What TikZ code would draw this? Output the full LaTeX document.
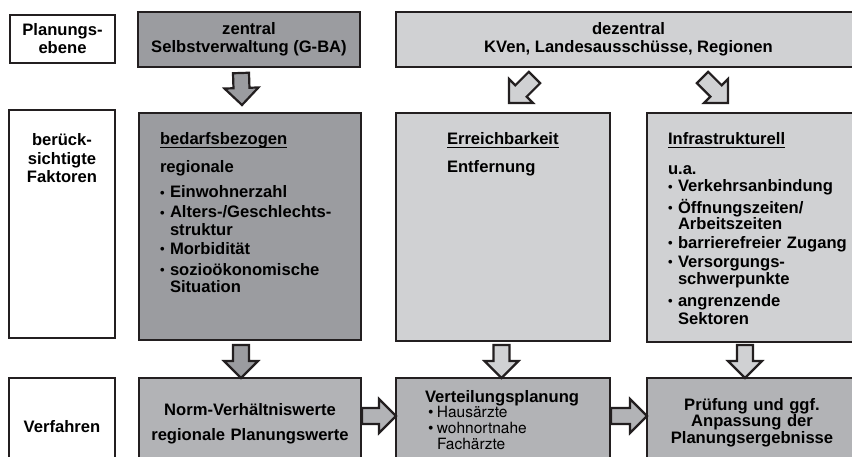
\documentclass[tikz,border=0pt]{standalone}
\usepackage{fontspec}
\setmainfont{Liberation Sans}
\newfontfamily\itmfont{TeX Gyre Heros}
\usetikzlibrary{calc}
\definecolor{gdark}{RGB}{155,156,160}
\definecolor{gmid}{RGB}{178,179,182}
\definecolor{glight}{RGB}{208,209,211}
\definecolor{edgec}{RGB}{35,31,32}
\newsavebox{\ulbox}
\newcommand{\undl}[1]{\sbox\ulbox{#1}\rlap{\rule[-2.8pt]{\wd\ulbox}{1.1pt}}\usebox\ulbox}
\newcommand{\bul}{\makebox[10pt][l]{\raisebox{0.8pt}{\fontsize{13}{13}\selectfont •}}}
\newcommand{\hng}{\makebox[10pt]{}}
\newcommand{\blkarrow}[3]{%
  \coordinate (bas) at #2;
  \coordinate (bae) at #3;
  \coordinate (bap) at ($(bae)!17pt!(bas)$);
  \draw[barr,fill=#1] ($(bas)!8pt!90:(bae)$) -- ($(bap)!8pt!90:(bae)$) -- ($(bap)!17pt!90:(bae)$) -- (bae)
    -- ($(bap)!17pt!-90:(bae)$) -- ($(bap)!8pt!-90:(bae)$) -- ($(bas)!8pt!-90:(bae)$) -- cycle;
}
\begin{document}
\begin{tikzpicture}[x=1pt,y=-1pt,
  box/.style={draw=edgec,line width=1.6pt,inner sep=0pt,outer sep=0pt,anchor=north west,
    font=\fontsize{16.6}{18}\selectfont\bfseries,align=center},
  body/.style={font=\fontsize{16.6}{17.5}\selectfont\bfseries,inner sep=0pt,outer sep=0pt,
    anchor=base west,text width=#1,align=left},
  ctext/.style={font=\fontsize{16.6}{#1}\selectfont\bfseries,inner sep=0pt,outer sep=0pt,
    anchor=base,text width=220pt,align=center},
  itm/.style={font=\itmfont\fontsize{15.5}{15.5}\selectfont,inner sep=0pt,outer sep=0pt,anchor=base west},
  barr/.style={draw=edgec,line width=2.2pt,line join=miter}]
\useasboundingbox (0,0) rectangle (852,457);
\clip (0,0) rectangle (852,457);
% row 1
\node[box,fill=white,minimum width=105pt,minimum height=48pt] (plan) at (10,15) {Planungs-\\ebene};
\node[box,fill=gdark,minimum width=222pt,minimum height=55pt] (zen) at (138,12) {zentral\\Selbstverwaltung (G-BA)};
\node[box,fill=glight,minimum width=465pt,minimum height=55pt] (dez) at (396,12) {dezentral\\KVen, Landesausschüsse, Regionen};
% row 2
\node[box,fill=white,minimum width=106pt,minimum height=228pt] (fak) at (9,110) {};
\node[ctext=18.5,text width=100pt] (fakt) at (62,146) {berück-\\sichtigte\\Faktoren};
\node[box,fill=gdark,minimum width=222pt,minimum height=227pt] (bed) at (139,113) {};
\node[box,fill=glight,minimum width=214pt,minimum height=228pt] (err) at (396,113) {};
\node[box,fill=glight,minimum width=214pt,minimum height=229pt] (inf) at (647,113) {};
\node[body=195pt] (bedt) at (160,145) {\undl{bedarfsbezogen}\\[10.5pt]
regionale\\[7.5pt]
\bul Einwohnerzahl\\[2.5pt]
\bul Alters-/Geschlechts-\\
\hng struktur\\[1.5pt]
\bul Morbidität\\[3.5pt]
\bul sozioökonomische\\
\hng Situation};
\node[body=150pt] (errt) at (447,145) {\undl{Erreichbarkeit}\\[10.5pt]Entfernung};
\node[body=190pt] (inft) at (668,145) {\undl{Infrastrukturell}\\[12.5pt]
u.a.\\[-0.5pt]
\bul Verkehrsanbindung\\[2.5pt]
\bul Öffnungszeiten/\\[-1.5pt]
\hng Arbeitszeiten\\[1.5pt]
\bul barrierefreier Zugang\\[1.5pt]
\bul Versorgungs-\\[-0.5pt]
\hng schwerpunkte\\[4.5pt]
\bul angrenzende\\[0.5pt]
\hng Sektoren};
% row 3
\node[box,fill=white,minimum width=106pt,minimum height=92pt] (verf) at (9,378) {};
\node[ctext=18,text width=100pt] (verft) at (62,432) {Verfahren};
\node[box,fill=gmid,minimum width=222pt,minimum height=92pt] (norm) at (139,378) {};
\node[ctext=25] (normt) at (250,415) {Norm-Verhältniswerte\\regionale Planungswerte};
\node[box,fill=gmid,minimum width=214pt,minimum height=92pt] (vert) at (396,378) {};
\node[inner sep=0pt,outer sep=0pt,anchor=base west,font=\fontsize{16.6}{18}\selectfont\bfseries] (verth) at (425,402) {Verteilungsplanung};
\node[itm] (verti1) at (428,417.5) {•\hspace{3.5pt}Hausärzte};
\node[itm] (verti2) at (428,433.5) {•\hspace{3.5pt}wohnortnahe};
\node[itm] (verti3) at (437,449) {Fachärzte};
\node[box,fill=gmid,minimum width=214pt,minimum height=92pt] (pruef) at (647,378) {};
\node[ctext=16.5] (prueft) at (752,410) {Prüfung und ggf.\\Anpassung der\\Planungsergebnisse};
% arrows
\blkarrow{gdark}{($(zen.south)+(-8,6)$)}{($(bed.north)+(-8,-8)$)}
\blkarrow{glight}{($(dez.south west)+(138.5,10.5)$)}{($(err.north west)+(113,-10)$)}
\blkarrow{glight}{($(dez.south west)+(306.5,10.5)$)}{($(inf.north west)+(81,-10)$)}
\blkarrow{gdark}{($(bed.south)+(-9,5)$)}{($(norm.north)+(-9,0)$)}
\blkarrow{glight}{($(err.south)+(-1.5,4)$)}{($(vert.north)+(-1.5,0)$)}
\blkarrow{glight}{($(inf.south)+(-9,3)$)}{($(pruef.north)+(-9,0)$)}
\blkarrow{gmid}{($(norm.north east)+(1,38)$)}{($(vert.north west)+(0,38)$)}
\blkarrow{gmid}{($(vert.north east)+(1,38)$)}{($(pruef.north west)+(0,38)$)}
\end{tikzpicture}
\end{document}
